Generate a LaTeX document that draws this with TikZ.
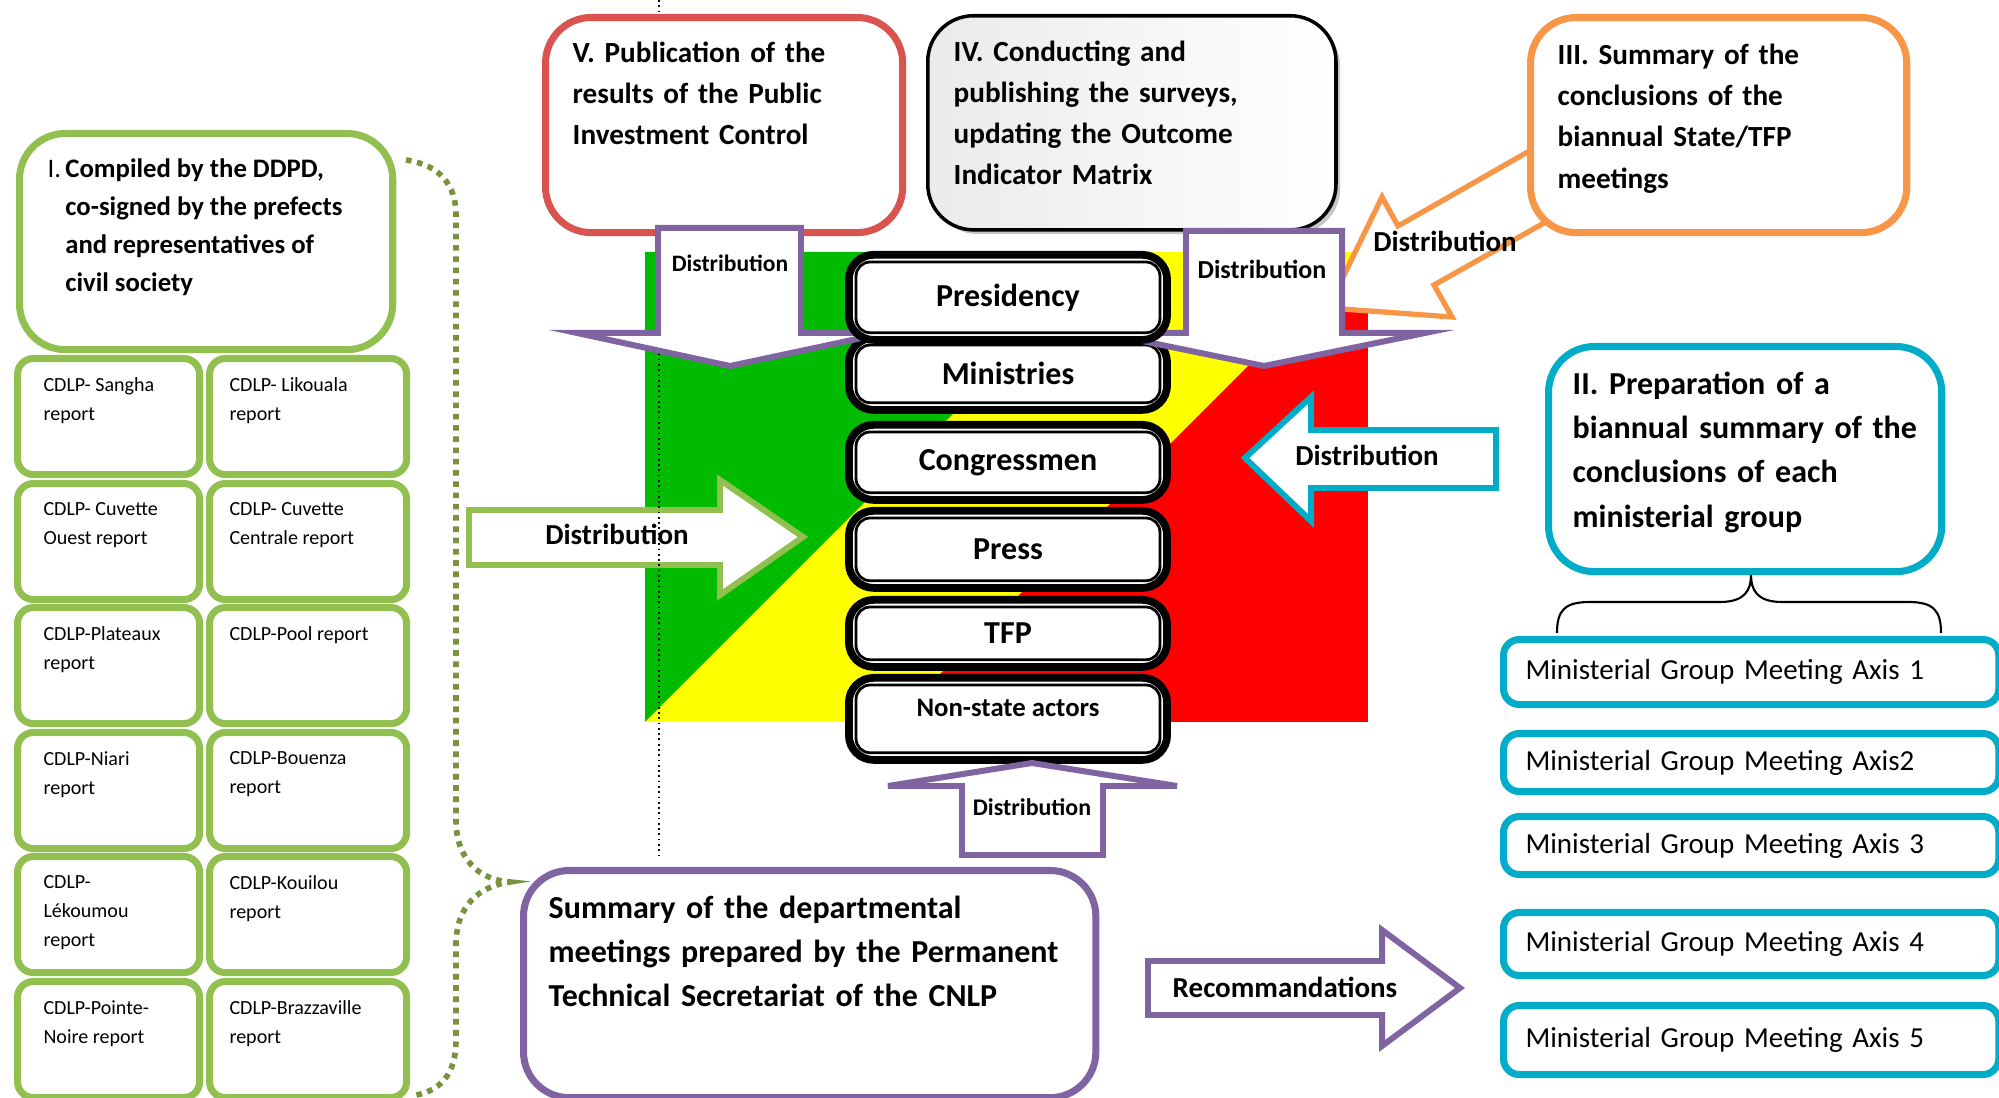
\documentclass[tikz,border=0pt]{standalone}
\usepackage{fontspec}
\setmainfont{Carlito}
\usetikzlibrary{shadows}

\definecolor{vred}{RGB}{217,83,79}
\definecolor{iiiorange}{RGB}{247,150,70}
\definecolor{iicyan}{RGB}{0,172,200}
\definecolor{igreen}{RGB}{146,192,80}
\definecolor{dotgreen}{RGB}{119,147,60}
\definecolor{arrpurple}{RGB}{128,100,162}
\definecolor{flaggreen}{RGB}{0,187,0}
\definecolor{flagred}{RGB}{255,0,0}
\definecolor{flagyellow}{RGB}{255,255,0}

\begin{document}
\begin{tikzpicture}[x=0.01cm,y=-0.01cm,
  bigbox/.style={draw,line width=2pt,rounded corners=13pt,fill=white,anchor=north west},
  stack/.style={draw=black,line width=2.2pt,rounded corners=7pt,fill=white,minimum width=3.18cm,anchor=north,font=\bfseries\fontsize{9.1}{11}\selectfont},
  stackin/.style={draw=black,line width=0.8pt,rounded corners=4pt},
  cdlp/.style 2 args={draw=igreen,line width=2pt,rounded corners=4.5pt,fill=white,anchor=north west,inner ysep=0.19cm,inner xsep=#1,font=\fontsize{5.7}{8.3}\selectfont,
    execute at begin node={\begin{minipage}[t][0.78cm][t]{#2}\raggedright},execute at end node={\end{minipage}}},
  cdlpl/.style={cdlp={0.26cm}{1.30cm}},
  cdlpr/.style={cdlp={0.20cm}{1.57cm}},
  mgm/.style={draw=iicyan,line width=2pt,rounded corners=4.5pt,fill=white,anchor=north west,text width=4.51cm,inner xsep=0.22cm,align=left,font=\fontsize{8.25}{10}\selectfont},
  boxtxt/.style={anchor=north west,inner sep=0pt,align=left,text width=5.2cm},
  blockarrow/.style={line width=1.7pt,fill=white,line join=miter},
  arrlab/.style={inner sep=0pt,font=\bfseries\fontsize{#1}{#1}\selectfont},
  vdot/.style={line width=0.5pt,dash pattern=on 0.5pt off 1pt},
  gdot/.style={draw=dotgreen,line width=1.6pt,dash pattern=on 1.6pt off 1.6pt}]
  \useasboundingbox (0,0) rectangle (1999,1098);

  % flag
  \fill[flagred] (645,252) rectangle (1368,722);
  \fill[flagyellow] (645,252) -- (1362,252) -- (892,722) -- (645,722) -- cycle;
  \fill[flaggreen] (645,252) -- (1115,252) -- (645,722) -- cycle;

  % side arrows over the flag
  \draw[blockarrow,draw=igreen] (469,510) -- (720,510) -- (720,480) -- (803,537) -- (720,595) -- (720,565) -- (469,565) -- cycle;
  \node[arrlab=8.25] (dgreen) at (617,534) {Distribution};
  \draw[blockarrow,draw=iicyan] (1496,430) -- (1311,430) -- (1311,397) -- (1245,458) -- (1311,521) -- (1311,488) -- (1496,488) -- cycle;
  \node[arrlab=8.25] (dcyan) at (1367,455) {Distribution};

  \coordinate (vtop) at (659,0);
  \coordinate (vbot) at (659,858);
  \draw[vdot] (vtop) -- (vbot);

  % stack of actors
  \node[stack,minimum height=0.72cm] (mini) at (1008,334) {Ministries};
  \node[stack,minimum height=0.75cm] (cong) at (1008,421) {Congressmen};
  \node[stack,minimum height=0.77cm] (press) at (1008,507) {Press};
  \node[stack,minimum height=0.67cm] (tfp) at (1008,596) {TFP};
  \node[stack,minimum height=0.82cm,text height=5pt,text depth=6.3pt,font=\bfseries\fontsize{7.6}{9}\selectfont] (nsa) at (1008,674) {Non-state actors};
  \draw[stackin] ([shift={(11,11)}]mini.north west) rectangle ([shift={(-11,-11)}]mini.south east);
  \draw[stackin] ([shift={(11,11)}]cong.north west) rectangle ([shift={(-11,-11)}]cong.south east);
  \draw[stackin] ([shift={(11,11)}]press.north west) rectangle ([shift={(-11,-11)}]press.south east);
  \draw[stackin] ([shift={(11,11)}]tfp.north west) rectangle ([shift={(-11,-11)}]tfp.south east);
  \draw[stackin] ([shift={(11,11)}]nsa.north west) rectangle ([shift={(-11,-11)}]nsa.south east);

  % top boxes
  \node[bigbox,draw=vred,minimum width=3.57cm,minimum height=2.15cm] (boxV) at (542,14) {};
  \node[bigbox,draw=black,line width=1pt,left color=gray!16,right color=white,
        drop shadow={shadow xshift=1.2pt,shadow yshift=-1.2pt,opacity=0.45},
        minimum width=4.08cm,minimum height=2.14cm] (boxIV) at (926,14) {};
  \draw[blockarrow,line width=1.5pt,draw=iiiorange] (1540,145) -- (1398,226) -- (1382,197) -- (1328,308) -- (1452,317) -- (1434,285) -- (1560,214) -- cycle;
  \node[bigbox,draw=iiiorange,minimum width=3.76cm,minimum height=2.15cm] (boxIII) at (1527,14) {};
  \node[arrlab=8.25] (dorange) at (1445,241) {Distribution};

  % purple arrows
  \draw[blockarrow,draw=arrpurple] (658,228) -- (801,228) -- (801,333) -- (885,333) -- (730,366) -- (577,333) -- (658,333) -- cycle;
  \node[arrlab=6.7] (dleft) at (730,263) {Distribution};
  \draw[blockarrow,draw=arrpurple] (1186,231) -- (1342,231) -- (1342,333) -- (1425,333) -- (1264,366) -- (1103,333) -- (1186,333) -- cycle;
  \node[arrlab=7.4] (dright) at (1262,269) {Distribution};
  \draw[blockarrow,draw=arrpurple] (962,855) -- (1103,855) -- (1103,786) -- (1177,786) -- (1032,763) -- (888,786) -- (962,786) -- cycle;
  \node[arrlab=6.8] (dbottom) at (1032,807) {Distribution};

  \node[stack,minimum height=0.85cm] (pres) at (1008,251) {Presidency};
  \draw[stackin] ([shift={(11,11)}]pres.north west) rectangle ([shift={(-11,-11)}]pres.south east);

  \draw[blockarrow,draw=arrpurple] (1148,961) -- (1382,961) -- (1382,930) -- (1460,988) -- (1382,1046) -- (1382,1015) -- (1148,1015) -- cycle;
  \node[arrlab=8.25] (recom) at (1285,987) {Recommandations};

  % departments
  \node[bigbox,draw=igreen,minimum width=3.73cm,minimum height=2.16cm] (boxI) at (16,130) {};
  \node[cdlpl] (sangha) at (14,355) {CDLP- Sangha\\report};
  \node[cdlpr] (likouala) at (206,355) {CDLP- Likouala\\report};
  \node[cdlpl] (cuvouest) at (14,480) {CDLP- Cuvette\\Ouest report};
  \node[cdlpr] (cuvcentr) at (206,480) {CDLP- Cuvette\\Centrale report};
  \node[cdlpl] (plateaux) at (14,604) {CDLP-Plateaux\\report};
  \node[cdlpr] (pool) at (206,604) {CDLP-Pool report};
  \node[cdlpl] (niari) at (14,729) {CDLP-Niari\\report};
  \node[cdlpr] (bouenza) at (206,729) {CDLP-Bouenza\\report};
  \node[cdlpl] (lekoumou) at (14,853) {CDLP-\\Lékoumou\\report};
  \node[cdlpr] (kouilou) at (206,853) {CDLP-Kouilou\\report};
  \node[cdlpl] (pnoire) at (14,978) {CDLP-Pointe-\\Noire report};
  \node[cdlpr] (brazza) at (206,978) {CDLP-Brazzaville\\report};

  \node[bigbox,draw=arrpurple,minimum width=5.72cm,minimum height=2.27cm] (summ) at (520,867) {};

  % dotted brace
  \coordinate (gtop) at (406,160);
  \coordinate (gtip) at (510,882);
  \coordinate (gbot) at (411,1096);
  \draw[gdot] (gtop) .. controls (440,165) and (456,185) .. (456,215) -- (456,820)
    .. controls (456,860) and (480,880) .. (gtip)
    .. controls (480,886) and (456,905) .. (456,945) -- (456,1040)
    .. controls (456,1075) and (440,1092) .. (gbot);

  % ministerial groups
  \node[bigbox,draw=iicyan,minimum width=3.93cm,minimum height=2.25cm] (boxII) at (1545,343) {};
  \node[mgm,minimum height=0.65cm] (axis1) at (1500,636) {Ministerial Group Meeting Axis 1};
  \node[mgm,minimum height=0.58cm] (axis2) at (1500,730) {Ministerial Group Meeting Axis2};
  \node[mgm,minimum height=0.58cm] (axis3) at (1500,813) {Ministerial Group Meeting Axis 3};
  \node[mgm,minimum height=0.63cm] (axis4) at (1500,909) {Ministerial Group Meeting Axis 4};
  \node[mgm,minimum height=0.69cm] (axis5) at (1500,1002) {Ministerial Group Meeting Axis 5};

  \coordinate (bl) at (1557,633);
  \coordinate (bt) at (1751,575);
  \coordinate (br) at (1941,633);
  \draw[line width=0.6pt] (bl) .. controls (1557,610) and (1565,602) .. (1590,602) -- (1720,602)
    .. controls (1745,602) and (1751,590) .. (bt)
    .. controls (1751,590) and (1757,602) .. (1782,602) -- (1908,602)
    .. controls (1933,602) and (1941,610) .. (br);

  % box texts
  \node[anchor=north west,inner sep=0pt,font=\bfseries\fontsize{7.6}{10.8}\selectfont] (txtI) at (47,150)
    {\begin{tabular}{@{}l@{\hspace{1.2pt}}l@{}}\textmd{I.}&Compiled by the DDPD,\\&co-signed by the prefects\\&and representatives of\\&civil society\end{tabular}};
  \node[boxtxt,font=\bfseries\fontsize{8.3}{11.65}\selectfont] (txtV) at (572,41)
    {V. Publication of the\\results of the Public\\Investment Control};
  \node[boxtxt,font=\bfseries\fontsize{8.3}{11.65}\selectfont] (txtIV) at (953,40)
    {IV. Conducting and\\publishing the surveys,\\updating the Outcome\\Indicator Matrix};
  \node[boxtxt,font=\bfseries\fontsize{8.3}{11.75}\selectfont] (txtIII) at (1557,43)
    {III. Summary of the\\conclusions of the\\biannual State/TFP\\meetings};
  \node[boxtxt,font=\bfseries\fontsize{9.1}{12.6}\selectfont] (txtII) at (1572,371)
    {II. Preparation of a\\biannual summary of the\\conclusions of each\\ministerial group};
  \node[boxtxt,font=\bfseries\fontsize{9.1}{12.6}\selectfont] (txtS) at (548,895)
    {Summary of the departmental\\meetings prepared by the Permanent\\Technical Secretariat of the CNLP};
\end{tikzpicture}
\end{document}
